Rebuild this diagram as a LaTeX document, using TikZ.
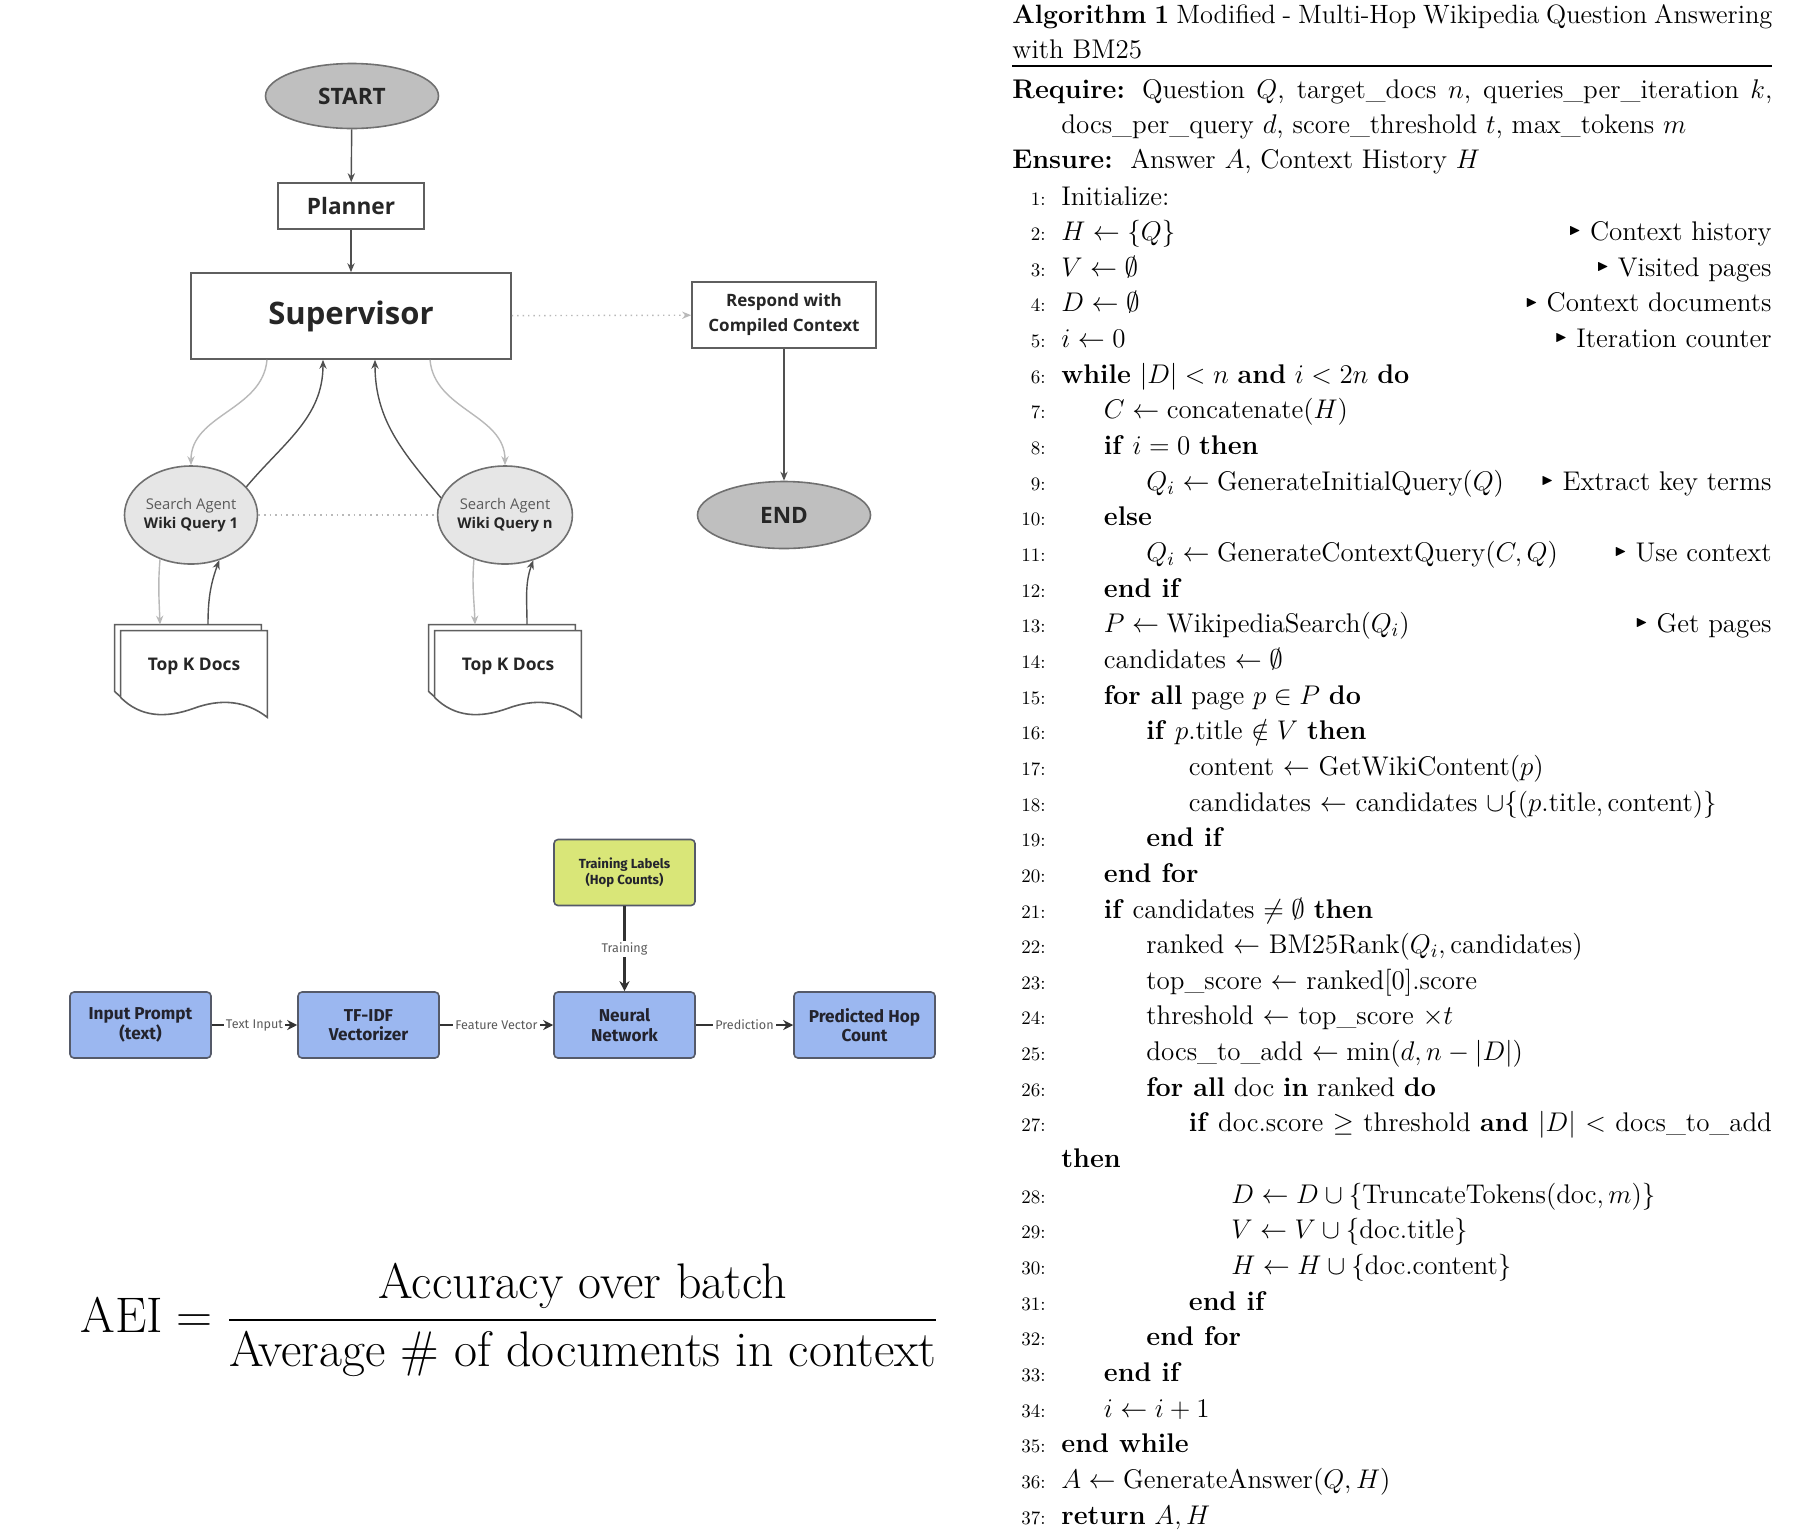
\RequirePackage{fix-cm}
\documentclass[tikz,border=0pt]{standalone}
\usepackage{amsmath,amssymb}
\usepackage{fontspec}
\newfontfamily\diafont{Open Sans}
\newfontfamily\flowfont{Fira Sans}
\usetikzlibrary{shapes.geometric,arrows.meta,positioning}
\pgfdeclarelayer{paper}
\pgfdeclarelayer{background}
\pgfsetlayers{paper,background,main}

\definecolor{termfill}{RGB}{191,191,191}
\definecolor{termline}{RGB}{112,112,112}
\definecolor{agentfill}{RGB}{230,230,230}
\definecolor{boxline}{RGB}{95,95,95}
\definecolor{darkline}{RGB}{80,80,80}
\definecolor{lightline}{RGB}{185,185,185}
\definecolor{diatext}{RGB}{38,38,38}
\definecolor{agenttext}{RGB}{90,90,90}
\definecolor{stagefill}{RGB}{155,183,240}
\definecolor{stageline}{RGB}{85,90,105}
\definecolor{trainfill}{RGB}{217,230,120}
\definecolor{stagetext}{RGB}{35,35,45}
\definecolor{stagearrow}{RGB}{50,50,50}
\definecolor{labeltext}{RGB}{90,90,90}

\tikzset{
  term/.style={ellipse, draw=termline, fill=termfill, line width=0.8pt,
    minimum width=86.5pt, minimum height=32.5pt, inner sep=0pt,
    text=diatext, font=\diafont\bfseries\fontsize{11.3}{13}\selectfont},
  plainbox/.style={rectangle, draw=boxline, fill=white, line width=0.8pt,
    inner sep=0pt, align=center, text=diatext},
  agent/.style={ellipse, draw=termline, fill=agentfill, line width=0.8pt,
    minimum width=65.5pt, minimum height=49pt, inner sep=0pt, align=center,
    text=diatext, font=\diafont\fontsize{7.4}{9.2}\selectfont},
  docnode/.style={rectangle, minimum width=73pt, minimum height=35pt, inner sep=0pt,
    text=diatext, font=\diafont\bfseries\fontsize{8.7}{10}\selectfont},
  docpage/.style={draw=boxline, fill=white, line width=0.8pt},
  darkflow/.style={draw=darkline, line width=0.7pt, -{Stealth[length=4.5pt,width=3.6pt]}},
  lightflow/.style={draw=lightline, line width=0.7pt, -{Stealth[length=4.5pt,width=3.6pt]}},
  stagebox/.style={rectangle, rounded corners=2pt, draw=stageline, fill=stagefill,
    line width=0.8pt, minimum width=70.5pt, minimum height=33pt, inner sep=0pt,
    align=center, text=stagetext, font=\flowfont\bfseries\fontsize{8.6}{9.8}\selectfont},
  stageflow/.style={draw=stagearrow, line width=1.3pt, -{Stealth[length=5pt,width=5pt]}},
  flowlabel/.style={fill=white, inner sep=1pt, text=labeltext,
    font=\flowfont\fontsize{6.3}{7}\selectfont},
  algtxt/.style={anchor=base west, inner sep=0pt, font=\fontsize{13.5}{16}\selectfont},
  algnum/.style={anchor=base east, inner sep=0pt, font=\fontsize{9.5}{11}\selectfont},
  algcom/.style={anchor=base east, inner sep=0pt, font=\fontsize{13.5}{16}\selectfont},
}

% row, number, indent level, statement
\newcommand{\algline}[4]{%
  \node[algnum] (num#2) at (1046,{-(205+35.65*#1)}) {#2:};
  \node[algtxt] (line#2) at ({1061+42.5*#3},{-(205+35.65*#1)}) {#4};}
% row, number, comment
\newcommand{\algnote}[3]{%
  \node[algcom] (note#2) at (1772,{-(205+35.65*#1)}) {\raisebox{0.22em}{\scriptsize$\blacktriangleright$} #3};}

\begin{document}
\begin{tikzpicture}[x=0.5pt,y=0.5pt]
\begin{pgfonlayer}{paper}
\fill[white] (0,0) rectangle (1808,-1538);
\end{pgfonlayer}
\useasboundingbox (0,0) rectangle (1808,-1538);

% agent graph
\node[term] (start) at (352,-96) {START};
\node[plainbox, minimum width=73pt, minimum height=23pt,
  font=\diafont\bfseries\fontsize{11.3}{13}\selectfont] (plan) at (351,-206) {Planner};
\node[plainbox, minimum width=160pt, minimum height=43pt,
  font=\diafont\bfseries\fontsize{15.5}{18}\selectfont] (sup) at (351,-316) {Supervisor};
\node[plainbox, minimum width=92pt, minimum height=33pt,
  font=\diafont\bfseries\fontsize{8.5}{12.5}\selectfont] (resp) at (784,-315) {Respond with\\Compiled Context};
\node[term, minimum height=33.5pt] (stop) at (784,-515) {END};
\node[agent] (a1) at (191,-515) {{\color{agenttext}Search Agent}\\\textbf{Wiki Query 1}};
\node[agent] (an) at (505,-515) {{\color{agenttext}Search Agent}\\\textbf{Wiki Query n}};
\node[docnode] (docA) at (194,-666) {Top K Docs};
\node[docnode] (docB) at (508,-666) {Top K Docs};

\begin{pgfonlayer}{background}
\foreach \d in {docA,docB}{
  \foreach \dx/\dy in {-3pt/3pt,0pt/0pt}{
    \draw[docpage] ([shift={(\dx,\dy+2pt)}]\d.south west) -- ([shift={(\dx,\dy)}]\d.north west)
      -- ([shift={(\dx,\dy)}]\d.north east) -- ([shift={(\dx,\dy-8pt)}]\d.south east)
      .. controls ([shift={(\dx+62.5pt,\dy+0.5pt)}]\d.south west) and ([shift={(\dx+50pt,\dy+1.5pt)}]\d.south west)
      .. ([shift={(\dx+36.5pt,\dy-3.5pt)}]\d.south west)
      .. controls ([shift={(\dx+22.5pt,\dy-8.5pt)}]\d.south west) and ([shift={(\dx+10pt,\dy-8pt)}]\d.south west)
      .. ([shift={(\dx,\dy+2pt)}]\d.south west) -- cycle;
  }
}
\end{pgfonlayer}

\draw[darkflow] (start) -- (plan);
\draw[darkflow] (plan) -- (sup);
\draw[lightflow, dotted] (sup) -- (resp);
\draw[darkflow] (resp) -- (stop);
\draw[lightline, dotted, line width=0.8pt] (a1) -- (an);
\draw[lightflow] ([xshift=-42pt]sup.south) to[out=-95,in=90] (a1.north);
\draw[darkflow] (a1.27) to[out=50,in=-90] ([xshift=-14pt]sup.south);
\draw[darkflow] (an.165) to[out=130,in=-90] ([xshift=12pt]sup.south);
\draw[lightflow] ([xshift=39.5pt]sup.south) to[out=-85,in=90] (an.north);
\draw[lightflow] (a1.235) to[out=-95,in=92] ([xshift=-17pt,yshift=3pt]docA.north);
\draw[darkflow] ([xshift=7pt,yshift=3pt]docA.north) to[out=90,in=-110] (a1.-58);
\draw[lightflow] (an.235) to[out=-95,in=92] ([xshift=-16.5pt,yshift=3pt]docB.north);
\draw[darkflow] ([xshift=9.5pt,yshift=3pt]docB.north) to[out=90,in=-110] (an.-58);

% hop count predictor
\node[stagebox, fill=trainfill, font=\flowfont\bfseries\fontsize{6.6}{8}\selectfont] (train) at (624.5,-872.5) {Training Labels\\(Hop Counts)};
\node[stagebox] (inp) at (140.5,-1025) {Input Prompt\\(text)};
\node[stagebox] (tfidf) at (368.5,-1025) {TF-IDF\\Vectorizer};
\node[stagebox] (nn) at (624.5,-1025) {Neural\\Network};
\node[stagebox] (pred) at (864.5,-1025) {Predicted Hop\\Count};
\draw[stageflow] (train) -- node[flowlabel] (lbltrain) {Training} (nn);
\draw[stageflow] (inp) -- node[flowlabel] (lbltext) {Text Input} (tfidf);
\draw[stageflow] (tfidf) -- node[flowlabel] (lblfeat) {Feature Vector} (nn);
\draw[stageflow] (nn) -- node[flowlabel] (lblpred) {Prediction} (pred);

% metric
\node[anchor=base west, inner sep=0pt, font=\fontsize{25}{30}\selectfont] (aei) at (80,-1332)
  {$\displaystyle\mathrm{AEI} = \frac{\text{Accuracy over batch}}{\text{Average \# of documents in context}}$};

% algorithm
\node[algtxt, font=\fontsize{13.25}{16}\selectfont] (algtitle) at (1012,-23) {\makebox[380pt][s]{\textbf{Algorithm 1} Modified - Multi-Hop Wikipedia Question Answering}};
\node[algtxt] (algtitle2) at (1012,-58) {with BM25};
\draw[line width=0.6pt] (1012,-66) -- (1772,-66);
\node[algtxt] (require) at (1012,-98) {\makebox[380pt][s]{\textbf{Require:} Question $Q$, target\_docs $n$, queries\_per\_iteration $k$,}};
\node[algtxt] (require2) at (1061,-133) {docs\_per\_query $d$, score\_threshold $t$, max\_tokens $m$};
\node[algtxt] (ensure) at (1012,-168) {\textbf{Ensure:}\ \ Answer $A$, Context History $H$};

\algline{0}{1}{0}{Initialize:}
\algline{1}{2}{0}{$H \leftarrow \{Q\}$}\algnote{1}{2}{Context history}
\algline{2}{3}{0}{$V \leftarrow \emptyset$}\algnote{2}{3}{Visited pages}
\algline{3}{4}{0}{$D \leftarrow \emptyset$}\algnote{3}{4}{Context documents}
\algline{4}{5}{0}{$i \leftarrow 0$}\algnote{4}{5}{Iteration counter}
\algline{5}{6}{0}{\textbf{while} $|D| < n$ \textbf{and} $i < 2n$ \textbf{do}}
\algline{6}{7}{1}{$C \leftarrow \text{concatenate}(H)$}
\algline{7}{8}{1}{\textbf{if} $i = 0$ \textbf{then}}
\algline{8}{9}{2}{$Q_i \leftarrow \text{GenerateInitialQuery}(Q)$}\algnote{8}{9}{Extract key terms}
\algline{9}{10}{1}{\textbf{else}}
\algline{10}{11}{2}{$Q_i \leftarrow \text{GenerateContextQuery}(C, Q)$}\algnote{10}{11}{Use context}
\algline{11}{12}{1}{\textbf{end if}}
\algline{12}{13}{1}{$P \leftarrow \text{WikipediaSearch}(Q_i)$}\algnote{12}{13}{Get pages}
\algline{13}{14}{1}{candidates $\leftarrow \emptyset$}
\algline{14}{15}{1}{\textbf{for all} page $p \in P$ \textbf{do}}
\algline{15}{16}{2}{\textbf{if} $p$.title $\notin V$ \textbf{then}}
\algline{16}{17}{3}{content $\leftarrow$ GetWikiContent($p$)}
\algline{17}{18}{3}{candidates $\leftarrow$ candidates $\cup\{(p.\text{title}, \text{content})\}$}
\algline{18}{19}{2}{\textbf{end if}}
\algline{19}{20}{1}{\textbf{end for}}
\algline{20}{21}{1}{\textbf{if} candidates $\neq \emptyset$ \textbf{then}}
\algline{21}{22}{2}{ranked $\leftarrow$ BM25Rank$(Q_i, \text{candidates})$}
\algline{22}{23}{2}{top\_score $\leftarrow$ ranked[0].score}
\algline{23}{24}{2}{threshold $\leftarrow$ top\_score $\times t$}
\algline{24}{25}{2}{docs\_to\_add $\leftarrow \min(d, n - |D|)$}
\algline{25}{26}{2}{\textbf{for all} doc \textbf{in} ranked \textbf{do}}
\algline{26}{27}{3}{\makebox[291.5pt][s]{\textbf{if} doc.score $\geq$ threshold \textbf{and} $|D|$ $<$ docs\_to\_add}}
\node[algtxt] (thenline) at (1061,{-(205+35.65*27)}) {\textbf{then}};
\algline{28}{28}{4}{$D \leftarrow D \cup \{\text{TruncateTokens}(\text{doc}, m)\}$}
\algline{29}{29}{4}{$V \leftarrow V \cup \{\text{doc.title}\}$}
\algline{30}{30}{4}{$H \leftarrow H \cup \{\text{doc.content}\}$}
\algline{31}{31}{3}{\textbf{end if}}
\algline{32}{32}{2}{\textbf{end for}}
\algline{33}{33}{1}{\textbf{end if}}
\algline{34}{34}{1}{$i \leftarrow i + 1$}
\algline{35}{35}{0}{\textbf{end while}}
\algline{36}{36}{0}{$A \leftarrow \text{GenerateAnswer}(Q, H)$}
\algline{37}{37}{0}{\textbf{return} $A, H$}
\end{tikzpicture}
\end{document}
